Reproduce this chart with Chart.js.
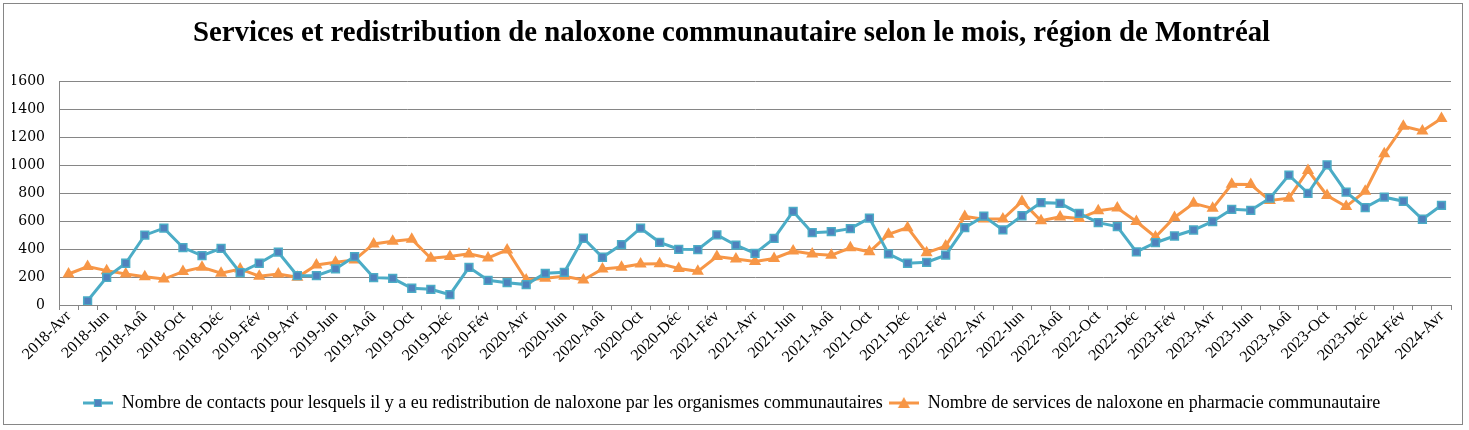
<!DOCTYPE html>
<html>
<head>
<meta charset="utf-8">
<title>Naloxone communautaire - Montréal</title>
<script src="https://cdn.jsdelivr.net/npm/chart.js@4.4.0/dist/chart.umd.min.js"></script>
<style>
	html, body { margin: 0; padding: 0; background: #fff; }
	#chart { display: block; }
</style>
</head>
<body>
<canvas id="chart" width="1469" height="430"></canvas>
<script>
// mois affichés (abréviations du fichier source)
var moisNoms = ['Jan', 'Fév', 'Mar', 'Avr', 'Mai', 'Jun', 'Jul', 'Aoû', 'Sep', 'Oct', 'Nov', 'Déc'];
var annees = [2018, 2019, 2020, 2021, 2022, 2023, 2024];

// Nombre de contacts avec redistribution par les organismes communautaires
var contactsOrganismes = [
	null, 30, 198, 299, 500, 550, 411, 354, 406, 232, 299, 378,
	210, 210, 258, 347, 196, 191, 120, 112, 74, 270, 177, 160,
	146, 227, 234, 478, 342, 433, 550, 449, 399, 397, 502, 428,
	370, 477, 670, 518, 525, 547, 622, 366, 299, 306, 357, 554,
	636, 538, 639, 733, 728, 656, 590, 562, 381, 446, 494, 537,
	598, 685, 678, 765, 930, 800, 1004, 808, 698, 772, 743, 614,
	714
];

// Nombre de services de naloxone en pharmacie communautaire
var servicesPharmacie = [
	222, 275, 246, 222, 203, 186, 239, 270, 227, 258, 206, 222,
	198, 287, 306, 323, 437, 456, 471, 335, 347, 366, 337, 394,
	179, 191, 206, 179, 258, 270, 294, 296, 261, 241, 347, 330,
	311, 333, 386, 366, 357, 410, 381, 506, 554, 374, 422, 634,
	615, 615, 742, 603, 631, 619, 675, 694, 598, 487, 627, 728,
	692, 864, 863, 748, 765, 964, 784, 705, 815, 1083, 1280, 1246,
	1335
];

var yTicks = [0, 200, 400, 600, 800, 1000, 1200, 1400, 1600];

// categories 2018-Avr -> 2024-Avr
var categories = [];
annees.forEach(function(an) {
	moisNoms.forEach(function(m, i) {
		if (an == 2018 && i < 3) return;
		if (an == 2024 && i > 3) return;
		categories.push(an + '-' + m);
	});
});

var gris = '#868686';
var bleu = '#4BACC6';
var bleuMarque = '#4F81BD';
var orange = '#F79646';
var police = "'Liberation Serif', 'DejaVu Serif', serif";

// petit symbole ligne + marqueur pour la légende
function symbole(type) {
	var c = document.createElement('canvas');
	c.width = 30; c.height = 14;
	var g = c.getContext('2d');
	g.lineWidth = 3;
	g.strokeStyle = type == 'rect' ? bleu : orange;
	g.beginPath(); g.moveTo(0, 7); g.lineTo(30, 7); g.stroke();
	if (type == 'rect') {
		g.fillStyle = bleuMarque;
		g.fillRect(11, 3, 8, 8);
		g.lineWidth = 1;
		g.strokeRect(11.5, 3.5, 7, 7);
	} else {
		g.fillStyle = orange;
		g.beginPath(); g.moveTo(15, 1); g.lineTo(21, 12); g.lineTo(9, 12); g.closePath(); g.fill();
	}
	return c;
}
var symboles = [symbole('rect'), symbole('triangle')];

var cadre = {
	id: 'cadre',
	afterDraw: function(chart) {
		var ctx = chart.ctx;
		ctx.save();
		ctx.strokeStyle = gris;
		ctx.lineWidth = 1;
		ctx.strokeRect(3.5, 3.5, 1459, 421);
		ctx.restore();
	}
};

var ctx = document.getElementById('chart');
var myLineChart = new Chart(ctx, {
	type: 'line',
	plugins: [cadre],
	data: {
		labels: categories,
		datasets: [
			{
				label: 'Nombre de contacts pour lesquels il y a eu redistribution de naloxone par les organismes communautaires',
				data: contactsOrganismes,
				borderColor: bleu,
				backgroundColor: bleuMarque,
				borderWidth: 3,
				pointStyle: 'rect',
				pointRadius: 5.5,
				pointBorderWidth: 1.5,
				pointBorderColor: bleu,
				pointBackgroundColor: bleuMarque,
				tension: 0,
				spanGaps: false
			},
			{
				label: 'Nombre de services de naloxone en pharmacie communautaire',
				data: servicesPharmacie,
				borderColor: orange,
				backgroundColor: orange,
				borderWidth: 3,
				pointStyle: 'triangle',
				pointRadius: 7,
				pointBorderWidth: 0,
				pointBackgroundColor: orange,
				tension: 0
			}
		]
	},
	options: {
		responsive: false,
		animation: false,
		layout: { padding: { left: 12, right: 18, top: 0, bottom: 8 } },
		plugins: {
			title: {
				display: true,
				text: 'Services et redistribution de naloxone communautaire selon le mois, région de Montréal',
				color: '#000',
				font: { family: police, size: 28.8, weight: 'bold', lineHeight: 1.2 },
				padding: { top: 16, bottom: 31 },
				align: 'center'
			},
			legend: {
				position: 'bottom',
				labels: {
					color: '#000',
					font: { family: police, size: 18 },
					usePointStyle: true,
					pointStyleWidth: 30,
					boxHeight: 14,
					padding: 6,
					generateLabels: function(chart) {
						return chart.data.datasets.map(function(ds, i) {
							return {
								text: ds.label,
								pointStyle: symboles[i],
								fillStyle: ds.borderColor,
								strokeStyle: ds.borderColor,
								lineWidth: 0,
								datasetIndex: i
							};
						});
					}
				}
			},
			tooltip: { enabled: false }
		},
		scales: {
			x: {
				offset: true,
				grid: {
					offset: true,
					drawOnChartArea: false,
					drawTicks: true,
					tickLength: 5,
					color: gris
				},
				border: { display: true, color: gris },
				afterFit: function(scale) { scale.height = 83; },
				ticks: {
					autoSkip: false,
					maxRotation: 45,
					minRotation: 45,
					padding: -3,
					color: '#000',
					font: { family: police, size: 16 },
					callback: function(v, i) {
						return i % 2 == 0 ? categories[i] : '';
					}
				}
			},
			y: {
				min: 0,
				max: 1600,
				afterBuildTicks: function(scale) {
					scale.ticks = yTicks.map(function(v) { return { value: v }; });
				},
				afterFit: function(scale) { scale.width = 47; },
				grid: { color: gris, drawTicks: false },
				border: { display: true, color: gris },
				ticks: {
					padding: 14,
					color: '#000',
					font: { family: "'DejaVu Serif', serif", size: 14 },
					callback: function(v) { return String(v); }
				}
			}
		}
	}
});
</script>
</body>
</html>
